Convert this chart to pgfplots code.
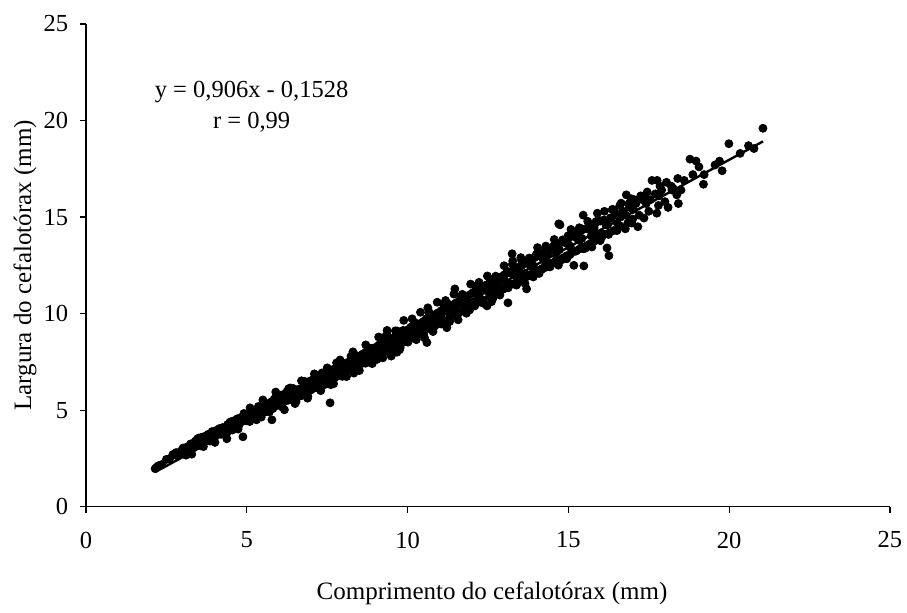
\documentclass[border=0pt]{standalone}
\usepackage{pgfplots}
\pgfplotsset{compat=1.18}
\usepackage{pgfplotstable}
\usepackage{fontspec}
\setmainfont{Liberation Serif}

\pgfplotstableread{
x y
2.15 1.97
2.20 2.05
2.25 2.12
2.35 2.18
2.50 2.45
2.60 2.48
2.70 2.70
2.80 2.80
2.85 2.62
2.95 2.88
3.00 2.78
3.05 2.95
3.10 2.80
3.15 3.10
3.20 3.05
3.25 3.25
3.30 3.00
3.35 3.30
3.40 3.40
3.45 3.15
3.50 3.55
3.55 3.35
3.60 3.60
3.65 3.25
3.70 3.65
3.75 3.50
3.80 3.75
3.85 3.40
3.90 3.70
3.95 3.80
4.00 3.60
4.05 3.95
4.10 3.85
4.15 4.05
4.20 3.75
4.25 4.10
4.30 4.00
4.38 3.52
4.40 4.25
4.45 4.15
4.50 4.40
4.55 4.20
4.60 4.45
4.65 4.30
4.70 4.55
4.75 4.20
4.80 4.60
4.88 3.62
4.90 4.50
4.95 4.75
5.00 4.45
5.05 4.77
5.10 4.52
5.15 4.87
5.20 4.62
5.25 4.97
5.30 4.72
5.35 5.07
5.40 4.82
5.45 5.17
5.50 4.87
5.55 5.27
5.60 4.92
5.65 5.32
5.70 5.02
5.75 5.42
5.78 4.50
5.80 5.12
5.85 5.57
5.90 5.22
5.95 5.62
6.00 5.32
6.05 5.77
6.10 5.17
6.15 5.82
6.20 5.47
6.25 5.97
6.30 5.52
6.35 6.02
6.40 5.67
6.45 6.12
6.50 5.72
6.55 5.95
6.60 5.70
6.65 6.10
6.70 5.75
6.75 6.20
6.80 5.90
6.85 6.25
6.90 5.95
6.95 6.40
7.00 6.05
7.06 6.57
7.10 6.15
7.15 6.55
7.20 6.25
7.25 6.70
7.30 6.35
7.35 6.75
7.40 6.40
7.45 6.85
7.50 6.50
7.59 5.38
7.60 6.95
7.65 6.60
7.70 7.05
7.75 6.70
7.80 7.15
7.85 6.80
7.90 7.25
7.95 6.90
8.00 7.30
8.05 6.95
8.10 7.45
8.15 7.10
8.20 7.50
8.25 7.15
8.30 7.87
8.35 7.25
8.40 7.70
8.45 7.35
8.50 7.80
8.55 7.40
8.60 7.90
8.65 7.50
8.70 8.00
8.75 7.55
8.80 8.10
8.85 7.65
8.90 8.20
8.95 7.75
9.00 8.25
9.05 7.85
9.10 8.35
9.15 7.90
9.20 8.45
9.25 8.00
9.30 8.55
9.36 8.90
9.40 8.10
9.45 8.65
9.50 8.20
9.55 8.75
9.60 8.30
9.67 8.00
9.70 8.85
9.75 8.40
9.80 9.00
9.85 8.50
9.90 9.05
9.95 8.60
10.00 9.15
10.05 8.70
10.10 9.30
10.15 8.80
10.20 9.35
10.25 8.85
10.30 9.45
10.35 8.95
10.40 9.50
10.45 9.05
10.50 9.60
10.55 9.15
10.60 8.50
10.63 10.30
10.65 9.70
10.70 9.25
10.75 9.85
10.80 9.35
10.85 9.95
10.90 9.45
10.95 10.05
11.00 9.55
11.05 10.15
11.10 9.60
11.15 10.25
11.22 9.27
11.25 10.35
11.30 9.80
11.35 10.40
11.40 9.90
11.47 11.28
11.50 10.55
11.55 10.00
11.60 10.65
11.65 10.10
11.70 10.75
11.75 10.20
11.80 10.85
11.85 10.30
11.90 10.95
11.95 10.40
12.00 11.05
12.05 10.45
12.10 11.15
12.15 10.55
12.20 11.25
12.25 10.65
12.30 11.35
12.35 10.70
12.40 11.45
12.47 10.40
12.50 11.50
12.55 10.90
12.60 11.60
12.65 11.00
12.70 11.70
12.75 11.10
12.80 11.80
12.85 11.20
12.90 11.90
12.95 11.25
13.00 12.00
13.05 11.35
13.10 12.10
13.12 10.56
13.15 11.45
13.20 12.15
13.25 13.10
13.27 12.73
13.30 11.55
13.35 12.30
13.40 11.65
13.45 12.40
13.50 11.75
13.55 12.50
13.60 11.85
13.65 12.60
13.70 11.28
13.75 12.70
13.80 12.00
13.85 12.80
13.90 12.10
13.95 12.90
14.00 12.20
14.05 13.00
14.10 12.25
14.15 13.10
14.20 12.35
14.25 13.20
14.30 12.40
14.35 13.30
14.40 12.50
14.45 13.40
14.50 12.60
14.55 13.50
14.60 12.70
14.65 13.55
14.70 14.65
14.74 14.60
14.75 12.80
14.80 13.70
14.85 12.90
14.90 13.80
14.95 13.00
15.00 13.90
15.05 13.05
15.10 14.00
15.17 12.50
15.20 14.10
15.25 13.25
15.30 14.20
15.35 13.35
15.40 14.30
15.46 15.10
15.48 12.47
15.50 13.45
15.55 14.40
15.60 13.55
15.65 14.50
15.70 13.65
15.75 14.60
15.80 13.75
15.85 14.70
15.90 15.20
15.95 13.85
16.00 14.80
16.05 14.00
16.10 14.85
16.20 13.40
16.26 13.00
16.30 14.95
16.37 15.40
16.40 14.30
16.50 15.10
16.60 14.50
16.70 15.30
16.80 16.15
16.85 14.70
16.90 15.50
17.00 14.90
17.10 15.70
17.16 14.50
17.20 15.10
17.30 15.90
17.35 14.95
17.40 16.00
17.50 15.30
17.60 16.90
17.70 16.20
17.75 15.20
17.76 16.90
17.80 15.60
17.90 16.40
18.00 15.80
18.10 15.50
18.20 16.60
18.37 16.15
18.40 17.00
18.42 15.70
18.60 16.90
18.78 18.00
18.87 17.20
18.97 17.90
19.06 17.60
19.20 16.70
19.22 17.20
19.56 17.70
19.70 17.90
19.78 17.40
19.99 18.80
20.34 18.30
20.60 18.70
20.77 18.55
21.05 19.60
3.33 3.15
4.12 3.80
4.83 4.40
5.32 4.90
5.72 5.30
6.22 5.70
6.62 6.00
6.98 6.25
7.38 6.60
7.82 7.00
8.22 7.30
8.62 7.70
9.02 8.05
9.42 8.40
9.82 8.80
10.22 9.15
10.62 9.55
11.02 9.95
11.42 10.30
11.82 10.60
12.22 11.00
12.62 11.35
13.02 11.70
13.42 12.05
13.82 12.45
14.22 12.80
14.62 13.15
15.02 13.55
15.42 13.90
15.82 14.20
16.22 14.60
16.62 15.00
17.02 15.40
17.42 15.70
17.82 16.10
18.22 16.40
3.02 3.04
3.11 2.67
3.20 2.99
3.29 2.72
3.38 3.27
3.47 3.52
3.56 3.16
3.65 3.11
3.74 3.55
3.83 3.51
3.92 3.89
4.01 3.33
4.10 3.96
4.19 3.79
4.28 4.06
4.37 3.78
4.46 4.34
4.55 3.97
4.64 4.30
4.73 4.02
4.82 4.58
4.91 4.83
5.00 4.47
5.09 4.41
5.18 4.85
5.27 4.81
5.36 5.19
5.45 4.64
5.54 5.26
5.63 5.09
5.72 5.36
5.81 5.08
5.90 5.65
5.99 5.28
6.08 5.48
6.17 5.02
6.26 5.81
6.35 6.15
6.44 5.57
6.53 5.44
6.62 6.07
6.71 5.96
6.80 6.49
6.89 5.62
6.98 6.52
7.07 6.22
7.16 6.58
7.25 6.12
7.34 6.93
7.43 6.33
7.52 6.78
7.61 6.32
7.70 7.12
7.79 7.45
7.88 6.87
7.97 6.75
8.06 7.37
8.15 7.26
8.24 7.79
8.33 6.92
8.42 7.82
8.51 7.53
8.60 7.89
8.69 7.43
8.78 8.23
8.87 7.64
8.96 8.09
9.05 7.63
9.14 8.42
9.23 8.75
9.32 8.18
9.41 8.05
9.50 8.68
9.59 8.57
9.68 9.10
9.77 8.23
9.86 9.13
9.95 8.83
10.04 9.19
10.13 8.73
10.22 9.53
10.31 8.94
10.40 9.39
10.49 8.93
10.58 9.73
10.67 10.06
10.76 9.48
10.85 9.36
10.94 9.98
11.03 9.87
11.12 10.45
11.21 9.47
11.30 10.47
11.39 10.13
11.48 10.52
11.57 10.00
11.66 10.88
11.75 10.21
11.84 10.70
11.93 10.19
12.02 11.06
12.11 11.42
12.20 10.77
12.29 10.62
12.38 11.30
12.47 11.18
12.56 11.76
12.65 10.78
12.74 11.77
12.83 11.43
12.92 11.82
13.01 11.30
13.10 12.19
13.19 11.52
13.28 12.01
13.37 11.49
13.46 12.36
13.55 12.72
13.64 12.08
13.73 11.93
13.82 12.61
13.91 12.48
14.00 13.06
14.09 12.08
14.18 13.07
14.27 12.74
14.36 13.13
14.45 12.61
14.54 13.49
14.63 12.82
14.72 13.31
14.81 12.80
14.90 13.67
14.99 14.03
15.08 13.38
15.17 13.23
15.26 13.91
15.35 13.78
15.44 14.37
15.53 13.39
15.62 14.38
15.71 14.04
15.80 14.43
15.89 13.91
15.98 14.80
16.07 14.13
16.16 14.62
16.25 14.10
16.34 14.97
16.43 15.33
16.52 14.68
16.61 14.54
16.70 15.22
16.79 15.09
16.88 15.67
16.97 14.69
17.05 15.90
17.25 16.10
17.45 16.30
17.55 15.90
17.85 16.60
18.05 16.80
18.25 16.50
16.60 15.60
16.95 15.95
18.50 16.40
9.10 8.79
9.23 7.71
9.36 9.13
9.49 7.80
9.62 9.11
9.75 8.13
9.88 9.65
10.01 8.52
10.14 9.73
10.27 8.65
10.40 10.07
10.53 8.74
10.66 10.05
10.79 9.07
10.92 10.59
11.05 9.46
11.18 10.68
11.31 9.59
11.44 11.01
11.57 9.68
11.70 11.00
11.83 10.02
11.96 11.53
12.09 10.40
12.22 11.62
12.35 10.54
12.48 11.95
12.61 10.62
12.74 11.94
12.87 10.96
13.00 12.48
13.13 11.34
13.26 12.56
13.39 11.48
13.52 12.90
13.65 11.56
13.78 12.88
13.91 11.90
14.04 13.42
14.17 12.29
14.30 13.50
14.43 12.42
14.56 13.84
14.69 12.51
14.82 13.82
14.95 12.84
15.08 14.36
15.21 13.23
15.34 14.45
15.47 13.36
15.60 14.78
15.73 13.45
15.86 14.77
15.99 13.78
16.12 15.30
16.25 14.17
16.38 15.39
16.51 14.30
16.64 15.72
16.77 14.39
16.90 15.71
5.10 5.12
5.30 4.50
5.50 5.53
5.70 4.91
5.90 5.94
6.10 5.17
6.30 6.11
6.50 5.34
6.70 6.52
6.90 5.70
7.10 6.88
7.30 6.01
7.50 7.19
7.70 6.37
7.90 7.60
8.10 6.74
8.30 8.02
8.50 7.05
8.70 8.38
8.90 7.41
}\datatable

\begin{document}
\begin{tikzpicture}
\useasboundingbox (0,0) rectangle (453.5pt,306pt);
\begin{axis}[
  at={(43pt,52.65pt)}, anchor=south west,
  scale only axis, width=402pt, height=241.35pt,
  xmin=0, xmax=25, ymin=0, ymax=25,
  xtick={0,5,...,25}, ytick={0,5,...,25},
  axis x line*=bottom, axis y line*=left,
  axis line style={-, line width=0.65pt},
  tick align=outside, major tick length=3pt,
  tick style={line width=0.65pt, black},
  /pgf/number format/assume math mode=true,
  tick label style={font=\fontsize{12.25}{14}\selectfont},
  xticklabel style={yshift=-6pt},
  yticklabel style={xshift=-2.4pt},
  clip=false,
]
\addplot[only marks, mark=*, mark size=2pt, black] table[x=x,y=y]{\datatable};
\addplot[black, line width=1.2pt] coordinates {(2.15,1.795) (21.05,18.918)};
\node[align=center, inner sep=0pt, font=\fontsize{12.25}{15.8}\selectfont] at (axis cs:5.15,20.72) {y = 0,906x - 0,1528\\r = 0,99};
\end{axis}
\node[anchor=base, font=\fontsize{12.5}{14}\selectfont] at (246pt,6.4pt) {Comprimento do cefalotórax (mm)};
\node[rotate=90, font=\fontsize{12.5}{14}\selectfont] at (12.5pt,173.3pt) {Largura do cefalotórax (mm)};
\end{tikzpicture}
\end{document}
